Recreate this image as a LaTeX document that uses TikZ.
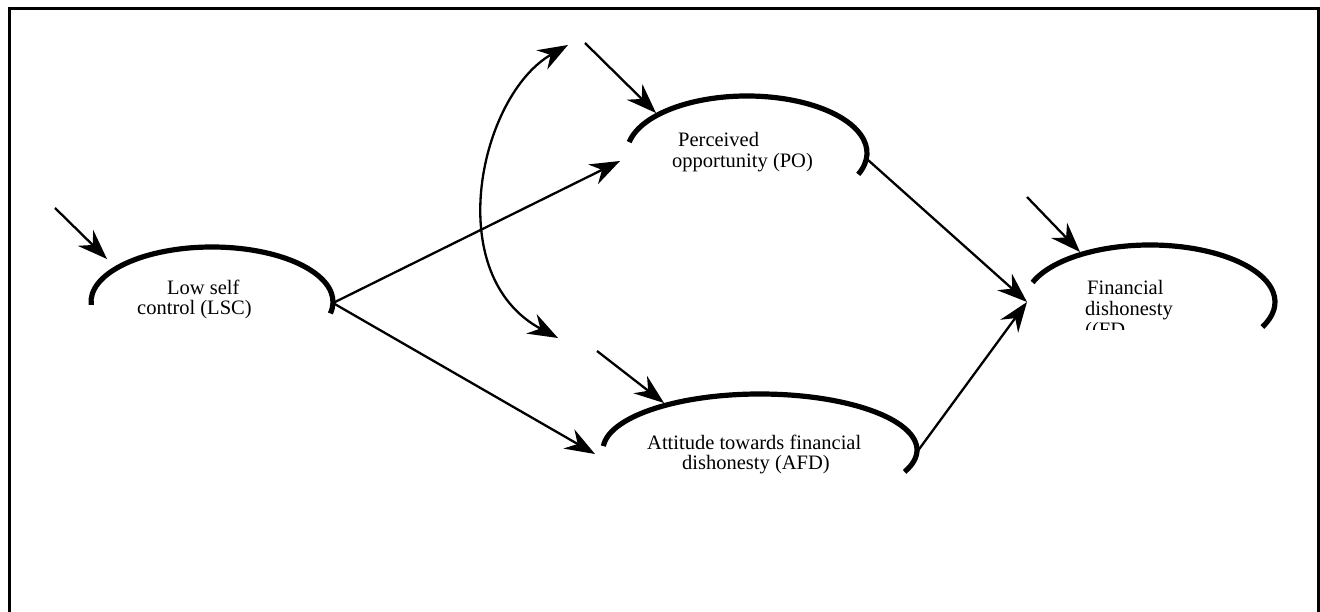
\documentclass[tikz,border=0pt]{standalone}
\usepackage{fontspec}
\setmainfont{Liberation Serif}
\usetikzlibrary{arrows.meta}
\begin{document}
\begin{tikzpicture}[x=1pt,y=1pt,
  conn/.style={line width=2.3pt,-{Stealth[length=30pt,width=22pt,inset=10pt]}},
  dconn/.style={line width=2.3pt,{Stealth[length=30pt,width=22pt,inset=10pt]}-{Stealth[length=30pt,width=22pt,inset=10pt]}},
  arcline/.style={line width=5.2pt},
  lbl/.style={anchor=base west,inner sep=0pt,font=\fontsize{20.5}{21}\selectfont}]
\useasboundingbox (0,0) rectangle (1320,-612);
% frame
\draw[line width=3pt] (9,-612) -- (9,-9) -- (1318,-9) -- (1318,-612);
% construct arcs
\draw[arcline] ([shift={(212,-302)}]183:121 and 55) arc[start angle=183,end angle=-12,x radius=121,y radius=55];
\draw[arcline] ([shift={(747,-153)}]169:120 and 57) arc[start angle=169,end angle=-22,x radius=120,y radius=57];
\draw[arcline] ([shift={(760,-450)}]176:157 and 56) arc[start angle=176,end angle=-23,x radius=157,y radius=56];
\draw[arcline] ([shift={(1150,-302)}]160:125 and 57) arc[start angle=160,end angle=-26,x radius=125,y radius=57];
% labels
\node[lbl] (lsc1) at (167,-295) {Low self};
\node[lbl] (lsc2) at (137,-315) {control (LSC)};
\node[lbl] (po1) at (678,-147) {Perceived};
\node[lbl] (po2) at (672,-168) {opportunity (PO)};
\node[lbl] (afd1) at (647,-449) {Attitude towards financial};
\node[lbl] (afd2) at (682,-469) {dishonesty (AFD)};
\node[lbl] (fd1) at (1087,-295) {Financial};
\node[lbl] (fd2) at (1085,-316) {dishonesty};
\begin{scope}
\clip (1060,-320) rectangle (1200,-330);
\node[lbl] (fd3) at (1085,-337) {((FD};
\end{scope}
% coordinates
\coordinate (lscR) at (333,-303);
\coordinate (poIn) at (620,-161);
\coordinate (afdIn) at (595,-454);
\coordinate (poR) at (868,-160);
\coordinate (afdR) at (917,-452);
\coordinate (fdIn) at (1027,-302);
\coordinate (eLscS) at (55,-208);
\coordinate (eLscT) at (107,-259);
\coordinate (ePoS) at (585,-43);
\coordinate (ePoT) at (656,-113);
\coordinate (eAfdS) at (597,-351);
\coordinate (eAfdT) at (664,-403);
\coordinate (eFdS) at (1027,-197);
\coordinate (eFdT) at (1080,-252);
\coordinate (covT) at (568,-45);
\coordinate (covB) at (558,-338);
% connectors
\draw[conn] (eLscS) -- (eLscT);
\draw[conn] (ePoS) -- (ePoT);
\draw[conn] (eAfdS) -- (eAfdT);
\draw[conn] (eFdS) -- (eFdT);
\draw[conn] (lscR) -- (poIn);
\draw[conn] (lscR) -- (afdIn);
\draw[conn] (poR) -- (fdIn);
\draw[conn] (afdR) -- (fdIn);
\draw[dconn] (covT) .. controls (480,-95) and (440,-275) .. (covB);
\end{tikzpicture}
\end{document}
